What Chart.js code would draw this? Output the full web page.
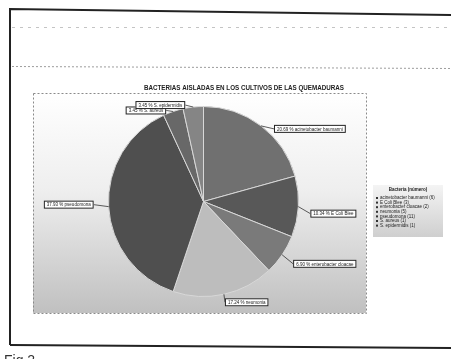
<!DOCTYPE html>
<html><head><meta charset="utf-8">
<script src="https://cdn.jsdelivr.net/npm/chart.js@4.4.1/dist/chart.umd.min.js"></script>
<style>html,body{margin:0;padding:0;background:#fff;overflow:hidden}#wrap{position:relative;width:451px;height:359px}</style>
</head><body><div id="wrap"><canvas id="c" width="451" height="359"></canvas></div>
<script>
const titleText = 'BACTERIAS AISLADAS EN LOS CULTIVOS DE LAS QUEMADURAS';
const legendTitle = 'Bacteria (número)';
const categories = ['acinetobacter baumanni','E Coli Blee','enterobacter cloacae','neumonia','pseudomona','S. aureus','S. epidermidis'];
const counts = [6, 3, 2, 5, 11, 1, 1];
const percentLabels = ['20.69 %','10.34 %','6.90 %','17.24 %','37.93 %','3.45 %','3.45 %'];

const sliceColors = ['#707070','#585858','#7a7a7a','#bdbdbd','#4f4f4f','#686868','#858585'];
// label box offsets relative to arc anchor (style only)
const labelOffsets = [[13,3],[12,7],[11,9],[1,8],[-15,-2],[-7,-1],[-8,-2]];

const calloutPlugin = {
  id:'callouts',
  beforeDraw(chart){
    const ctx = chart.ctx;
    ctx.save();
    ctx.fillStyle='#fff';ctx.fillRect(0,0,451,359);
    ctx.lineWidth=1;ctx.setLineDash([3,5]);
    ctx.strokeStyle='#c4c4c4';
    ctx.beginPath();ctx.moveTo(12,27.5);ctx.lineTo(451,27.5);ctx.stroke();
    ctx.setLineDash([2,2]);
    ctx.strokeStyle='#9c9c9c';
    ctx.beginPath();ctx.moveTo(12,66.5);ctx.lineTo(451,68.5);ctx.stroke();
    ctx.setLineDash([]);
    const g = ctx.createLinearGradient(0,93,0,313);
    g.addColorStop(0,'#ffffff');g.addColorStop(0.45,'#eeeeee');g.addColorStop(1,'#c0c0c0');
    ctx.fillStyle=g;ctx.fillRect(33,93,333,220);
    ctx.strokeStyle='#8a8a8a';ctx.setLineDash([2,2]);ctx.strokeRect(33.5,93.5,333,220);ctx.setLineDash([]);
    ctx.strokeStyle='#222';ctx.lineWidth=2;
    ctx.beginPath();ctx.moveTo(10,345);ctx.lineTo(10,9);ctx.lineTo(451,15);ctx.stroke();
    ctx.beginPath();ctx.moveTo(10,345);ctx.lineTo(451,348);ctx.stroke();
    ctx.fillStyle='#333';ctx.font='14px "Liberation Sans", Arial';ctx.textBaseline='alphabetic';ctx.textAlign='left';
    ctx.fillText('Fig 2',4,365);
    ctx.fillStyle='#222';ctx.font='bold 7px "Liberation Sans", Arial';ctx.textAlign='center';ctx.textBaseline='middle';
    const tw = ctx.measureText(titleText).width;
    ctx.save();ctx.translate(244,88);ctx.scale(200/tw,1);ctx.fillText(titleText,0,0);ctx.restore();
    const lg = ctx.createLinearGradient(0,185,0,237);
    lg.addColorStop(0,'#f4f4f4');lg.addColorStop(1,'#cfcfcf');
    ctx.fillStyle=lg;ctx.fillRect(373,185,70,52);
    ctx.fillStyle='#222';ctx.font='bold 4.5px "Liberation Sans", Arial';ctx.textAlign='center';
    ctx.fillText(legendTitle,408,190);
    ctx.font='4.5px "Liberation Sans", Arial';ctx.textAlign='left';
    categories.forEach((c,i)=>{
      const y=198+i*4.6;
      ctx.fillStyle='#333';ctx.fillRect(376,y-1,2,2);
      ctx.fillStyle='#222';ctx.fillText(c+' ('+counts[i]+')',380,y);
    });
    ctx.restore();
  },
  afterDraw(chart){
    const ctx = chart.ctx;
    const meta = chart.getDatasetMeta(0);
    ctx.save();
    ctx.font='4.5px "Liberation Sans", Arial';ctx.textBaseline='middle';
    meta.data.forEach((arc,i)=>{
      const p = arc.getProps(['x','y','startAngle','endAngle','outerRadius']);
      const mid=(p.startAngle+p.endAngle)/2;
      const ax=p.x+Math.cos(mid)*p.outerRadius, ay=p.y+Math.sin(mid)*p.outerRadius;
      const [dx,dy]=labelOffsets[i];
      const bx=ax+dx, by=ay+dy;
      const txt=percentLabels[i]+' '+categories[i];
      const w=ctx.measureText(txt).width+6, h=8;
      const left = dx>=0 ? bx : bx-w;
      ctx.strokeStyle='#333';ctx.lineWidth=0.8;
      ctx.beginPath();ctx.moveTo(ax,ay);ctx.lineTo(dx>=0?left:left+w,by);ctx.stroke();
      ctx.fillStyle='#fff';ctx.fillRect(left,by-h/2,w,h);
      ctx.strokeStyle='#222';ctx.lineWidth=1;ctx.strokeRect(left+0.5,by-h/2+0.5,w-1,h-1);
      ctx.fillStyle='#222';ctx.textAlign='left';ctx.fillText(txt,left+3,by+0.5);
    });
    ctx.restore();
  }
};

new Chart(document.getElementById('c'),{
  type:'pie',
  data:{labels:categories,datasets:[{data:counts,backgroundColor:sliceColors,borderColor:'#d8d8d8',borderWidth:1}]},
  options:{responsive:false,animation:false,devicePixelRatio:1,
    layout:{padding:{left:108,right:152,top:105,bottom:61}},
    plugins:{legend:{display:false},tooltip:{enabled:false},title:{display:false}}},
  plugins:[calloutPlugin]
});
</script></body></html>
